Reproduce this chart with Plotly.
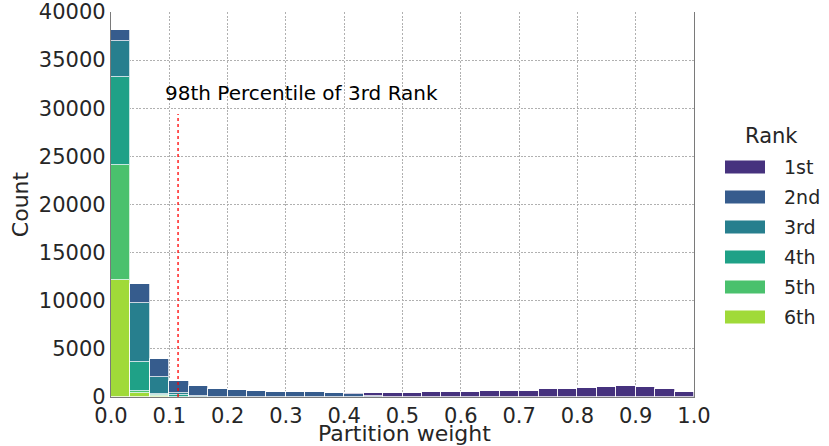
import numpy as np
import plotly.graph_objects as go

# Stacked histogram of partition weights, 30 equal bins on [0, 1]
n_bins = 30
ranks = ["1st", "2nd", "3rd", "4th", "5th", "6th"]
rank_colors = ["#46327e", "#365c8d", "#277f8e", "#1fa187", "#4ac16d", "#a0da39"]

count_1st = [50, 40, 0, 0, 0, 0, 0, 0, 0, 0, 0, 0, 150, 330, 420, 440,
             488, 488, 550, 623, 623, 655, 800, 800, 935, 1040, 1143, 1008, 800, 520]
count_2nd = [1100, 1900, 1840, 1240, 1070, 800, 720, 615, 518, 548, 498, 398, 290, 90, 30, 10,
             0, 0, 0, 0, 0, 0, 0, 0, 0, 0, 0, 0, 0, 0]
count_3rd = [3800, 6200, 1800, 250, 60, 30, 10, 5, 2, 2, 2, 2, 0, 0, 0, 0,
             0, 0, 0, 0, 0, 0, 0, 0, 0, 0, 0, 0, 0, 0]
count_4th = [9100, 2950, 150, 150, 10, 0, 0, 0, 0, 0, 0, 0, 0, 0, 0, 0,
             0, 0, 0, 0, 0, 0, 0, 0, 0, 0, 0, 0, 0, 0]
count_5th = [11900, 280, 80, 30, 0, 0, 0, 0, 0, 0, 0, 0, 0, 0, 0, 0,
             0, 0, 0, 0, 0, 0, 0, 0, 0, 0, 0, 0, 0, 0]
count_6th = [12200, 370, 80, 20, 0, 0, 0, 0, 0, 0, 0, 0, 0, 0, 0, 0,
             0, 0, 0, 0, 0, 0, 0, 0, 0, 0, 0, 0, 0, 0]
counts = [count_1st, count_2nd, count_3rd, count_4th, count_5th, count_6th]

percentile_98_3rd = 0.115
percentile_line_top = 29400
annotation_text = "98th Percentile of 3rd Rank"
x_title = "Partition weight"
y_title = "Count"

x_ticks = [round(0.1 * i, 1) for i in range(11)]
y_ticks = list(range(0, 40001, 5000))

edges = np.linspace(0.0, 1.0, n_bins + 1)
centers = (edges[:-1] + edges[1:]) / 2
width = edges[1] - edges[0]

TEXT = "#262626"
FONT = "DejaVu Sans"

fig = go.Figure()

# lowest rank at the bottom of each stack
for name, color, vals in reversed(list(zip(ranks, rank_colors, counts))):
    fig.add_trace(go.Bar(
        x=centers, y=vals, width=width, name=name,
        marker=dict(color=color, line=dict(color="rgba(255,255,255,0.75)", width=1)),
        showlegend=False,
    ))

fig.add_trace(go.Scatter(
    x=[percentile_98_3rd, percentile_98_3rd], y=[0, percentile_line_top],
    mode="lines", line=dict(color="red", width=1.3, dash="dot"),
    showlegend=False, hoverinfo="skip",
))

fig.add_annotation(
    x=0.327, y=31600, xref="x", yref="y", text=annotation_text,
    showarrow=False, font=dict(family=FONT, size=20, color="black"),
)

# plot area in pixels
L, R, T, B = 111, 694, 12, 397
W, H = 829, 446


def px_x(x):
    return (x - L) / (R - L)


def px_y(y):
    return (B - y) / (B - T)


# x-axis title placed just under the tick labels
fig.add_annotation(
    x=px_x(404), y=px_y(434), xref="paper", yref="paper", text=x_title,
    showarrow=False, font=dict(family=FONT, size=22, color=TEXT),
    xanchor="center", yanchor="middle",
)

# legend drawn beside the axes
fig.add_annotation(
    x=px_x(772), y=px_y(136), xref="paper", yref="paper", text="Rank",
    showarrow=False, font=dict(family=FONT, size=21, color=TEXT),
    xanchor="center", yanchor="middle",
)
for i, (name, color) in enumerate(zip(ranks, rank_colors)):
    cy = 167 + 30 * i
    fig.add_shape(
        type="rect", xref="paper", yref="paper",
        x0=px_x(725), x1=px_x(765), y0=px_y(cy + 6.5), y1=px_y(cy - 6.5),
        fillcolor=color, line=dict(width=0),
    )
    fig.add_annotation(
        x=px_x(782), y=px_y(cy), xref="paper", yref="paper", text=name,
        showarrow=False, font=dict(family=FONT, size=19, color=TEXT),
        xanchor="left", yanchor="middle",
    )

grid = dict(showgrid=True, gridcolor="#b0b0b0", gridwidth=1, griddash="2px,1.5px")

fig.update_layout(
    width=W, height=H,
    margin=dict(l=L, r=W - R, t=T, b=H - B, autoexpand=False),
    paper_bgcolor="white", plot_bgcolor="white",
    barmode="stack", bargap=0,
    font=dict(family=FONT, color=TEXT),
    xaxis=dict(
        range=[0, 1], tickvals=x_ticks, tickformat=".1f",
        tickfont=dict(size=21, color=TEXT), ticks="", ticklen=0,
        showline=True, linecolor="#7a7a7a", linewidth=1.3, mirror=False,
        zeroline=False, **grid,
    ),
    yaxis=dict(
        range=[0, 40000], tickvals=y_ticks, tickformat="d",
        tickfont=dict(size=21, color=TEXT), ticks="", ticklen=0,
        title=dict(text=y_title, font=dict(size=22, color=TEXT), standoff=4),
        showline=True, linecolor="#7a7a7a", linewidth=1.3, mirror=True,
        zeroline=False, **grid,
    ),
)

fig.write_html("out.html")
